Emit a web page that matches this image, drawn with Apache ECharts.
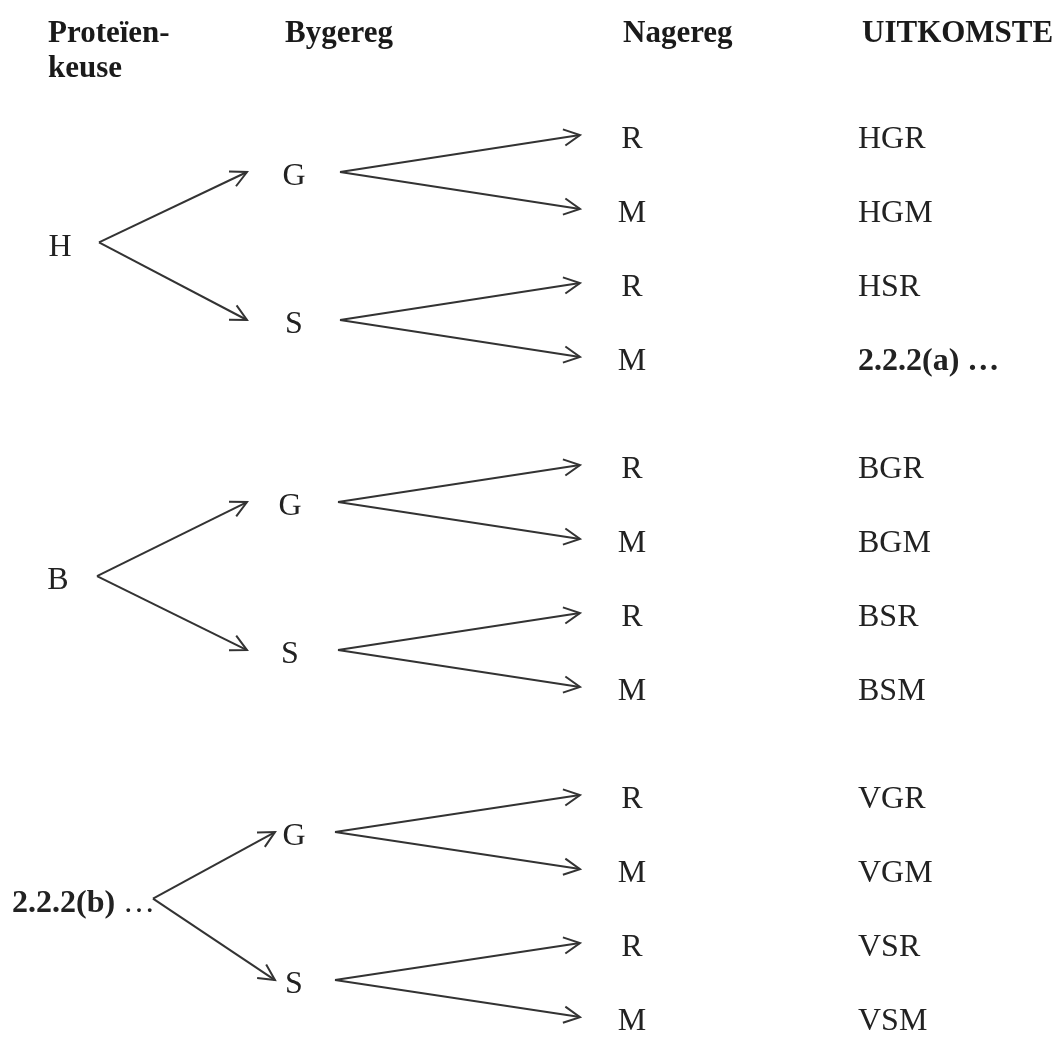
<!DOCTYPE html>
<html>
<head>
<meta charset="utf-8">
<script src="https://cdn.jsdelivr.net/npm/echarts@6/dist/echarts.min.js"></script>
<style>
  html, body { margin: 0; padding: 0; background: #fff; }
  #main { width: 1062px; height: 1038px; }
</style>
</head>
<body>
<div id="main"></div>
<script>
// data
var headers = ['Proteïen-\nkeuse', 'Bygereg', 'Nagereg', 'UITKOMSTE'];
var proteins = ['H', 'B', '2.2.2(b) …'];
var preChoices = ['G', 'S'];
var postChoices = ['R', 'M'];
var outcomes = ['HGR', 'HGM', 'HSR', '2.2.2(a) …',
                'BGR', 'BGM', 'BSR', 'BSM',
                'VGR', 'VGM', 'VSR', 'VSM'];
var boldTexts = ['2.2.2(b) …', '2.2.2(a) …'];
var thinEllipsis = ['2.2.2(b) …'];

// layout (x in px, y in leaf rows)
var groupGap = 4.46;
var rootX = [60, 58, 12];
var rootShift = [-0.05, 0, -0.1];
var rootOutX = [99, 97, 153];
var midInX = [247, 247, 275];
var midX = [294, 290, 294];
var midOutX = [340, 338, 335];
var leafInX = 580;
var leafX = 632;
var outcomeX = 858;
var rowPx = 74, firstRowPx = 140;

var arrows = [];
var textItems = [];
var textPos = [];

function addText(x, y, text, align) {
  textPos.push([x, y]);
  textItems.push({ text: text, align: align, bold: boldTexts.indexOf(text) >= 0 });
}

proteins.forEach(function (p, g) {
  var base = g * groupGap;
  var rootY = base + 1.5 + rootShift[g];
  addText(rootX[g], rootY, p, g === 2 ? 'left' : 'center');
  preChoices.forEach(function (c, j) {
    var midY = base + j * 2 + 0.5;
    arrows.push([rootOutX[g], rootY, midInX[g], midY]);
    addText(midX[g], midY, c, 'center');
    postChoices.forEach(function (d, k) {
      var leafY = base + j * 2 + k;
      arrows.push([midOutX[g], midY, leafInX, leafY]);
      addText(leafX, leafY, d, 'center');
      addText(outcomeX, leafY, outcomes[g * 4 + j * 2 + k], 'left');
    });
  });
});

var chart = echarts.init(document.getElementById('main'));
var ink = '#222';
var lineInk = '#333';
var lift = 5;

function renderArrow(params, api) {
  var a = api.coord([api.value(0), api.value(1)]);
  var b = api.coord([api.value(2), api.value(3)]);
  a[1] -= lift; b[1] -= lift;
  var ang = Math.atan2(b[1] - a[1], b[0] - a[0]);
  var len = 18, spread = 0.47;
  var p1 = [b[0] - len * Math.cos(ang - spread), b[1] - len * Math.sin(ang - spread)];
  var p2 = [b[0] - len * Math.cos(ang + spread), b[1] - len * Math.sin(ang + spread)];
  return {
    type: 'group',
    children: [
      { type: 'line', shape: { x1: a[0], y1: a[1], x2: b[0], y2: b[1] },
        style: { stroke: lineInk, lineWidth: 2 } },
      { type: 'polyline', shape: { points: [p1, b, p2] },
        style: { stroke: lineInk, lineWidth: 2, fill: null } }
    ]
  };
}

function renderText(params, api) {
  var item = textItems[params.dataIndex];
  var p = api.coord([api.value(0), api.value(1)]);
  var style = {
    text: item.text,
    fontFamily: 'Liberation Serif',
    fontSize: 32,
    fontWeight: item.bold ? 'bold' : 'normal',
    fill: ink,
    align: item.align,
    verticalAlign: 'middle'
  };
  if (thinEllipsis.indexOf(item.text) >= 0) {
    var parts = item.text.split(' ');
    style.text = '{b|' + parts[0] + '} {n|' + parts[1] + '}';
    style.rich = {
      b: { fontFamily: 'Liberation Serif', fontSize: 32, fontWeight: 'bold', fill: ink },
      n: { fontFamily: 'Liberation Serif', fontSize: 32, fontWeight: 'normal', fill: ink }
    };
  }
  return { type: 'text', x: p[0], y: p[1], style: style };
}

var headerX = [48, 285, 623, 862];
var option = {
  backgroundColor: '#fff',
  animation: false,
  grid: { left: 0, right: 0, top: 0, bottom: 0 },
  xAxis: { type: 'value', min: 0, max: 1062, show: false },
  yAxis: { type: 'value', inverse: true, show: false,
           min: -firstRowPx / rowPx, max: (1038 - firstRowPx) / rowPx },
  graphic: headers.map(function (h, i) {
    return {
      type: 'text', left: headerX[i], top: 16,
      style: { text: h, fontFamily: 'Liberation Serif', fontSize: 31,
               fontWeight: 'bold', fill: '#1a1a1a', lineHeight: 35 }
    };
  }),
  series: [
    { type: 'custom', renderItem: renderArrow, data: arrows,
      encode: { x: [0, 2], y: [1, 3] }, silent: true },
    { type: 'custom', renderItem: renderText, data: textPos,
      encode: { x: 0, y: 1 }, silent: true }
  ]
};
chart.setOption(option);
</script>
</body>
</html>
